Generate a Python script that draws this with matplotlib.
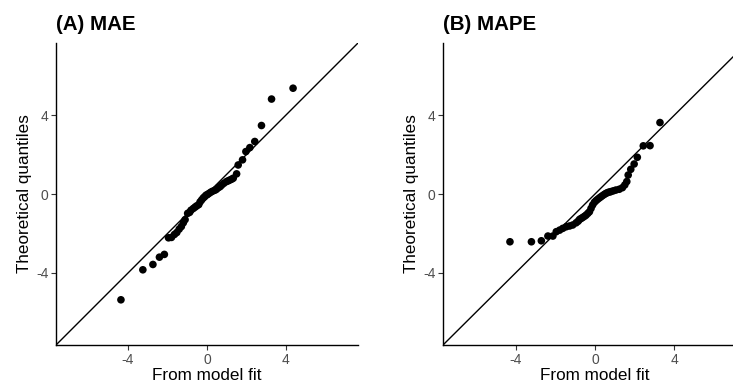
import matplotlib
matplotlib.use("Agg")
import matplotlib.pyplot as plt

plt.rcParams['font.family'] = ['Liberation Sans', 'DejaVu Sans']
plt.rcParams['axes.unicode_minus'] = False

# panel A: MAE (x = from model fit, y = theoretical quantiles)
mae_x = [-4.36, -3.25, -2.74, -2.41, -2.16, -1.95, -1.80, -1.65, -1.53, -1.41,
         -1.30, -1.20, -1.11, -0.98, -0.88, -0.81, -0.69, -0.60, -0.52, -0.42,
         -0.35, -0.27, -0.19, -0.12, -0.05, 0.02, 0.10, 0.19, 0.28, 0.40,
         0.48, 0.57, 0.66, 0.74, 0.85, 0.99, 1.08, 1.16, 1.25, 1.33,
         1.50, 1.58, 1.80, 1.97, 2.17, 2.42, 2.76, 3.27, 4.36]
mae_y = [-5.36, -3.84, -3.57, -3.20, -3.06, -2.22, -2.20, -2.05, -1.95, -1.78,
         -1.65, -1.46, -1.30, -0.98, -0.93, -0.82, -0.73, -0.66, -0.60, -0.54,
         -0.40, -0.30, -0.20, -0.14, -0.06, -0.03, 0.03, 0.09, 0.14, 0.19,
         0.24, 0.32, 0.37, 0.45, 0.54, 0.63, 0.67, 0.71, 0.75, 0.80,
         1.02, 1.47, 1.73, 2.15, 2.35, 2.66, 3.47, 4.81, 5.36]

# panel B: MAPE
mape_x = [-4.28, -3.20, -2.70, -2.37, -2.12, -1.95, -1.78, -1.62, -1.45, -1.28,
          -1.12, -0.95, -0.85, -0.78, -0.70, -0.62, -0.53, -0.45, -0.36, -0.28,
          -0.20, -0.12, -0.03, 0.05, 0.13, 0.22, 0.30, 0.38, 0.47, 0.55,
          0.63, 0.72, 0.80, 0.92, 1.05, 1.22, 1.38, 1.50, 1.60, 1.67,
          1.80, 1.97, 2.13, 2.43, 2.77, 3.27]
mape_y = [-2.42, -2.42, -2.37, -2.13, -2.13, -1.91, -1.83, -1.74, -1.66, -1.62,
          -1.57, -1.46, -1.38, -1.29, -1.24, -1.19, -1.13, -1.07, -0.98, -0.90,
          -0.73, -0.56, -0.42, -0.34, -0.27, -0.20, -0.14, -0.08, -0.02, 0.03,
          0.07, 0.10, 0.12, 0.16, 0.20, 0.24, 0.32, 0.46, 0.63, 0.96,
          1.25, 1.52, 1.86, 2.44, 2.45, 3.62]

lim = 7.65
ticks = [-4, 0, 4]

fig = plt.figure(figsize=(7.33, 3.86), dpi=100)
ax_a = fig.add_axes([56 / 733, 41 / 386, 302 / 733, 302 / 386])
ax_b = fig.add_axes([443 / 733, 41 / 386, 304 / 733, 302 / 386])

for ax, xs, ys, title in [(ax_a, mae_x, mae_y, '(A) MAE'),
                          (ax_b, mape_x, mape_y, '(B) MAPE')]:
    ax.plot([-lim, lim], [-lim, lim], color='black', lw=1.0, zorder=1)
    ax.scatter(xs, ys, s=30, color='black', edgecolors='none', zorder=2)
    ax.set_xlim(-lim, lim)
    ax.set_ylim(-lim, lim)
    ax.set_xticks(ticks)
    ax.set_yticks(ticks)
    ax.spines['top'].set_visible(False)
    ax.spines['right'].set_visible(False)
    for s in ['left', 'bottom']:
        ax.spines[s].set_linewidth(1.0)
    ax.tick_params(length=3.5, width=0.8, color='#333333', labelcolor='#4d4d4d',
                   labelsize=10, pad=2)
    ax.set_xlabel('From model fit', fontsize=12.3, labelpad=1)
    ax.set_ylabel('Theoretical quantiles', fontsize=12.3, labelpad=3)
    ax.set_title(title, loc='left', fontweight='bold', fontsize=14.8, pad=9)

fig.savefig('out.png', dpi=100)
